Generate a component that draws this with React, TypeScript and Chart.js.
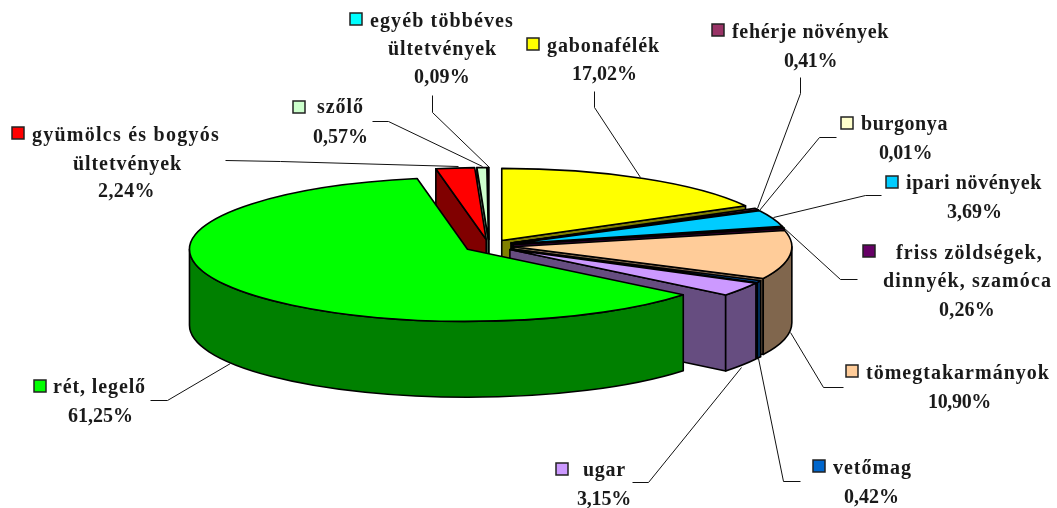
import React, { useEffect, useRef } from "react";
import { Chart, registerables } from "chart.js";

Chart.register(...registerables);

const categories = ["gabonafélék", "fehérje növények", "burgonya", "ipari növények", "friss zöldségek, dinnyék, szamóca", "tömegtakarmányok", "vetőmag", "ugar", "rét, legelő", "gyümölcs és bogyós ültetvények", "szőlő", "egyéb többéves ültetvények"];
const shares = [17.02, 0.41, 0.01, 3.69, 0.26, 10.9, 0.42, 3.15, 61.25, 2.24, 0.57, 0.09];
const colors = ["#FFFF00", "#993366", "#FFFFCC", "#00CCFF", "#660066", "#FFCC99", "#0066CC", "#CC99FF", "#00FF00", "#FF0000", "#CCFFCC", "#00FFFF"];
const wallColors = ["#808000", "#4D1A33", "#808066", "#006680", "#330033", "#80664D", "#003366", "#664D80", "#008000", "#800000", "#668066", "#008080"];
const labelLines = [
  ["gabonafélék"],
  ["fehérje növények"],
  ["burgonya"],
  ["ipari növények"],
  ["friss zöldségek,", "dinnyék, szamóca"],
  ["tömegtakarmányok"],
  ["vetőmag"],
  ["ugar"],
  ["rét, legelő"],
  ["gyümölcs és bogyós", "ültetvények"],
  ["szőlő"],
  ["egyéb többéves", "ültetvények"],
];

// layout only: [left, right, baseline] of each text line, the last one being the percentage
const lineBoxes = [
  [[547, 660, 52], [572, 637, 80]],
  [[732, 889, 38], [784, 837, 67]],
  [[861, 948, 130], [879, 932, 159]],
  [[906, 1042, 189], [947, 1002, 218]],
  [[896, 1043, 259], [883, 1052, 287], [939, 995, 316]],
  [[866, 1050, 379], [928, 991, 408]],
  [[833, 912, 474], [844, 899, 503]],
  [[583, 626, 476], [577, 631, 505]],
  [[53, 146, 393], [68, 133, 422]],
  [[32, 220, 141], [73, 182, 170], [98, 155, 197]],
  [[317, 364, 113], [313, 368, 143]],
  [[370, 514, 27], [388, 497, 55], [414, 470, 83]],
];
const keyBoxes = [[527, 38], [712, 24], [841, 117], [886, 176], [863, 245], [846, 365], [813, 460], [556, 463], [34, 380], [12, 127], [293, 101], [350, 13]];
const leaderLines = [
  [[594, 91], [594, 107], [640, 177]],
  [[800, 77], [800, 93], [757, 208]],
  [[836, 137], [819, 137], [759, 210]],
  [[881, 195], [865, 195], [773, 217]],
  [[857, 279], [840, 279], [783, 227]],
  [[843, 387], [823, 387], [790, 332]],
  [[800, 481], [783, 481], [758, 358]],
  [[632, 482], [648, 482], [741, 367]],
  [[150, 400], [167, 400], [230, 363]],
  [[225, 160], [280, 161], [458, 166]],
  [[372, 121], [388, 121], [482, 166]],
  [[432, 95], [432, 112], [489, 167]],
];
const paintOrder = [11, 10, 9, 0, 1, 2, 3, 4, 5, 6, 7, 8];

const CX = 489;
const CY = 246;
const RX = 278;
const RY = 72;
const DEPTH = 76;
const EXPLODE = 0.09;

const pie3d = {
  id: "pie3d",
  beforeDatasetsDraw(chart: any) {
    const ctx = chart.ctx;
    const arcs = chart.getDatasetMeta(0).data;
    ctx.save();
    ctx.lineWidth = 1.6;
    ctx.strokeStyle = "#000";
    ctx.lineJoin = "round";
    for (const i of paintOrder) {
      const { startAngle: a0, endAngle: a1 } = arcs[i];
      const mid = (a0 + a1) / 2;
      const x = CX + EXPLODE * RX * Math.cos(mid);
      const y = CY + EXPLODE * RY * Math.sin(mid);
      const px = (a: number) => x + RX * Math.cos(a);
      const py = (a: number) => y + RY * Math.sin(a);
      ctx.fillStyle = wallColors[i];
      const visibleWalls: number[] = [];
      if (Math.cos(a0) < 0) visibleWalls.push(a0);
      if (Math.cos(a1) > 0) visibleWalls.push(a1);
      for (const a of visibleWalls) {
        ctx.beginPath();
        ctx.moveTo(x, y);
        ctx.lineTo(px(a), py(a));
        ctx.lineTo(px(a), py(a) + DEPTH);
        ctx.lineTo(x, y + DEPTH);
        ctx.closePath();
        ctx.fill();
        ctx.stroke();
      }
      const v0 = Math.max(a0, 0);
      const v1 = Math.min(a1, Math.PI);
      if (v1 > v0) {
        ctx.beginPath();
        ctx.ellipse(x, y, RX, RY, 0, v0, v1);
        ctx.lineTo(px(v1), py(v1) + DEPTH);
        ctx.ellipse(x, y + DEPTH, RX, RY, 0, v1, v0, true);
        ctx.closePath();
        ctx.fill();
        ctx.stroke();
      }
      ctx.fillStyle = colors[i];
      ctx.beginPath();
      ctx.moveTo(x, y);
      ctx.ellipse(x, y, RX, RY, 0, a0, a1);
      ctx.closePath();
      ctx.fill();
      ctx.stroke();
    }
    ctx.restore();
    return false;
  },
  afterDraw(chart: any) {
    const ctx = chart.ctx;
    ctx.save();
    ctx.strokeStyle = "#111";
    ctx.lineWidth = 1;
    for (const pts of leaderLines) {
      ctx.beginPath();
      pts.forEach(([x, y], k) => (k ? ctx.lineTo(x + 0.5, y + 0.5) : ctx.moveTo(x + 0.5, y + 0.5)));
      ctx.stroke();
    }
    ctx.font = 'bold 20px "Liberation Serif"';
    ctx.textAlign = "left";
    ctx.textBaseline = "alphabetic";
    categories.forEach((_, i) => {
      const [kx, ky] = keyBoxes[i];
      ctx.fillStyle = colors[i];
      ctx.fillRect(kx, ky, 12, 12);
      ctx.strokeStyle = "#222";
      ctx.lineWidth = 1.5;
      ctx.strokeRect(kx, ky, 12, 12);
      const texts = [...labelLines[i], shares[i].toFixed(2).replace(".", ",") + "%"];
      ctx.fillStyle = "#1a1a1a";
      texts.forEach((t, k) => {
        const [x0, x1, base] = lineBoxes[i][k];
        ctx.letterSpacing = "0px";
        const w = ctx.measureText(t).width;
        ctx.letterSpacing = (x1 - x0 - w) / t.length + "px";
        ctx.fillText(t, x0, base);
      });
    });
    ctx.restore();
  },
};

export default function App() {
  const ref = useRef<HTMLCanvasElement>(null);
  useEffect(() => {
    const chart = new Chart(ref.current!, {
      type: "pie",
      data: { labels: categories, datasets: [{ data: shares, backgroundColor: colors, borderColor: "#000", borderWidth: 1 }] },
      options: {
        animation: false,
        responsive: false,
        devicePixelRatio: 1,
        plugins: { legend: { display: false }, tooltip: { enabled: false } },
      },
      plugins: [pie3d],
    } as any);
    return () => chart.destroy();
  }, []);
  return (
    <div style={{ position: "absolute", left: 0, top: 0, width: 1057, height: 508, overflow: "hidden", background: "#fff" }}>
      <canvas ref={ref} width={1057} height={508} style={{ display: "block" }} />
    </div>
  );
}
